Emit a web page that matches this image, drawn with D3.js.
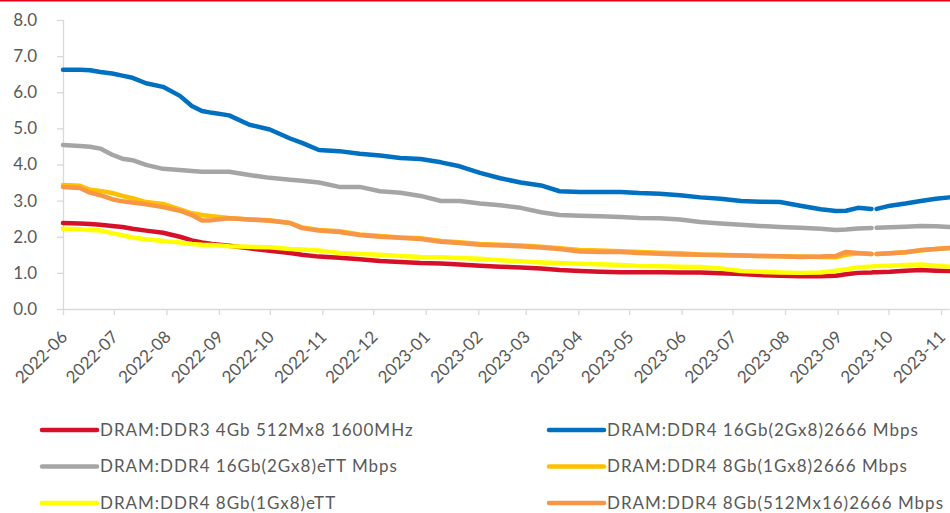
<!DOCTYPE html>
<html>
<head>
<meta charset="utf-8">
<script src="https://cdn.jsdelivr.net/npm/d3@7"></script>
<style>
  body { margin: 0; background: #fff; }
  svg { display: block; font-family: Lato, "Open Sans", sans-serif; }
</style>
</head>
<body>
<div class="chart"></div>
<script>
// dates of the sampled points (yyyy-mm-dd)
var dates = ["2022-06-01","2022-06-11","2022-06-17","2022-06-23","2022-06-30","2022-07-06","2022-07-12","2022-07-20","2022-07-30",
  "2022-08-09","2022-08-16","2022-08-22","2022-08-28","2022-09-07","2022-09-19","2022-10-01","2022-10-13","2022-10-20","2022-10-30",
  "2022-11-11","2022-11-23","2022-12-05","2022-12-17","2022-12-29","2023-01-10","2023-01-21","2023-02-02","2023-02-14","2023-02-26",
  "2023-03-10","2023-03-21","2023-04-02","2023-04-14","2023-04-26","2023-05-07","2023-05-19","2023-05-31","2023-06-12","2023-06-24",
  "2023-07-06","2023-07-17","2023-07-29","2023-08-10","2023-08-22","2023-08-31","2023-09-06","2023-09-13","2023-09-21","2023-09-22",
  "2023-09-24","2023-10-02","2023-10-11","2023-10-20","2023-10-29","2023-11-06"];

var ddr3_4gb = [2.38,2.37,2.35,2.33,2.30,2.27,2.22,2.17,2.11,2.00,1.90,1.84,1.80,1.75,1.68,1.61,1.55,1.50,1.45,
  1.42,1.38,1.33,1.30,1.27,1.26,1.23,1.20,1.17,1.15,1.12,1.08,1.05,1.03,1.02,1.02,1.02,1.01,1.01,0.99,
  0.97,0.94,0.92,0.91,0.91,0.92,0.96,1.00,1.01,1.015,1.02,1.03,1.06,1.08,1.06,1.05];

var ddr4_16gb_2666 = [6.62,6.62,6.61,6.56,6.52,6.46,6.40,6.25,6.15,5.90,5.62,5.48,5.43,5.36,5.10,4.97,4.72,4.60,4.40,
  4.37,4.30,4.25,4.18,4.15,4.06,3.95,3.77,3.62,3.50,3.42,3.26,3.24,3.24,3.24,3.21,3.19,3.15,3.09,3.05,
  2.99,2.97,2.96,2.86,2.76,2.71,2.72,2.80,2.77,null,2.77,2.86,2.92,2.99,3.05,3.09];

var ddr4_16gb_ett = [4.54,4.51,4.49,4.44,4.27,4.16,4.12,3.99,3.88,3.85,3.82,3.80,3.80,3.80,3.71,3.63,3.58,3.55,3.50,
  3.38,3.38,3.26,3.22,3.13,2.99,2.99,2.92,2.87,2.80,2.68,2.60,2.58,2.57,2.55,2.52,2.51,2.48,2.41,2.37,
  2.33,2.30,2.27,2.25,2.22,2.19,2.20,2.23,2.24,null,2.25,2.26,2.28,2.30,2.29,2.27];

var ddr4_8gb_2666 = [3.43,3.41,3.30,3.27,3.21,3.13,3.07,2.96,2.91,2.76,2.65,2.60,2.57,2.52,2.48,2.46,2.38,2.26,2.19,
  2.15,2.06,2.02,1.98,1.96,1.88,1.85,1.80,1.78,1.76,1.72,1.68,1.63,1.62,1.60,1.58,1.56,1.54,1.51,1.50,
  1.48,1.47,1.46,1.45,1.44,1.43,1.50,1.54,1.52,null,1.52,1.54,1.57,1.62,1.66,1.69];

var ddr4_8gb_ett = [2.22,2.21,2.19,2.17,2.10,2.04,1.98,1.93,1.88,1.84,1.80,1.78,1.77,1.74,1.72,1.71,1.66,1.65,1.62,
  1.55,1.52,1.50,1.47,1.44,1.43,1.41,1.39,1.35,1.32,1.29,1.27,1.25,1.24,1.22,1.19,1.18,1.17,1.16,1.12,
  1.05,1.03,1.01,1.00,1.01,1.06,1.10,1.15,1.18,1.185,1.19,1.20,1.22,1.23,1.20,1.17];

var ddr4_8gb_512_2666 = [3.38,3.35,3.22,3.15,3.04,2.98,2.95,2.90,2.82,2.72,2.60,2.45,2.46,2.51,2.48,2.44,2.38,2.24,2.17,
  2.13,2.05,2.00,1.97,1.94,1.86,1.83,1.78,1.76,1.74,1.70,1.66,1.59,1.58,1.58,1.55,1.53,1.51,1.50,1.49,
  1.48,1.47,1.46,1.44,1.45,1.47,1.58,1.55,1.52,null,1.52,1.54,1.57,1.63,1.66,1.69];

var seriesNames = ["DRAM:DDR3 4Gb 512Mx8 1600MHz", "DRAM:DDR4 16Gb(2Gx8)2666 Mbps", "DRAM:DDR4 16Gb(2Gx8)eTT Mbps",
  "DRAM:DDR4 8Gb(1Gx8)2666 Mbps", "DRAM:DDR4 8Gb(1Gx8)eTT", "DRAM:DDR4 8Gb(512Mx16)2666 Mbps"];
var seriesColors = ["#D7102A", "#0070C0", "#A5A5A5", "#FFC000", "#FFFF00", "#F79646"];
var yTicks = [0, 1, 2, 3, 4, 5, 6, 7, 8];

var svgWidth = 950;
var svgHeight = 513;

var margin = {
  top: 20,
  right: 0,
  bottom: 204,
  left: 63
};

var width = 886.5;
var height = svgHeight - margin.top - margin.bottom;

var svg = d3.select(".chart")
  .append("svg")
  .attr("width", svgWidth)
  .attr("height", svgHeight);

// thin red rule on top of the picture
svg.append("rect")
  .attr("x", 0)
  .attr("y", 0)
  .attr("width", svgWidth)
  .attr("height", 1.5)
  .attr("fill", "#E8001C");

var chartGroup = svg.append("g")
  .attr("transform", `translate(${margin.left}, ${margin.top})`);

var parseDate = d3.utcParse("%Y-%m-%d");
var allSeries = [ddr3_4gb, ddr4_16gb_2666, ddr4_16gb_ett, ddr4_8gb_2666, ddr4_8gb_ett, ddr4_8gb_512_2666];

var xTimeScale = d3.scaleUtc()
  .domain([parseDate("2022-06-01"), parseDate("2023-11-06")])
  .range([0, width]);

var yLinearScale = d3.scaleLinear()
  .domain([0, 8])
  .range([height, 0]);

// axes
var bottomAxis = d3.axisBottom(xTimeScale)
  .ticks(d3.utcMonth.every(1))
  .tickFormat(d3.utcFormat("%Y-%m"))
  .tickSize(6);

var leftAxis = d3.axisLeft(yLinearScale)
  .tickValues(yTicks)
  .tickFormat(d3.format(".1f"))
  .tickSize(6)
  .tickPadding(20);

var xAxis = chartGroup.append("g")
  .attr("transform", `translate(0, ${height})`)
  .call(bottomAxis);

xAxis.select(".domain").attr("d", `M0,0.5H${width}`);

// rotated month labels, end of the text just right of the tick
xAxis.selectAll("text")
  .attr("text-anchor", "end")
  .attr("x", 0)
  .attr("y", 0)
  .attr("dy", 0)
  .attr("transform", "translate(5, 29) rotate(-45)");

var yAxis = chartGroup.append("g")
  .call(leftAxis);

yAxis.select(".domain").attr("d", `M0.5,0V${height}`);

chartGroup.selectAll(".domain, .tick line")
  .attr("stroke", "#D9D9D9")
  .attr("stroke-width", 1.3);

chartGroup.selectAll(".tick text")
  .attr("fill", "#595959")
  .attr("font-size", "17px")
  .attr("font-family", "Lato, sans-serif");

// lines
var lineGen = d3.line()
  .defined(d => d.value != null)
  .x(d => xTimeScale(d.date))
  .y(d => yLinearScale(d.value));

allSeries.forEach(function(values, i) {
  var points = dates.map(function(d, j) {
    return { date: parseDate(d), value: values[j] };
  });
  chartGroup.append("path")
    .datum(points)
    .attr("fill", "none")
    .attr("stroke", seriesColors[i])
    .attr("stroke-width", 4.5)
    .attr("stroke-linejoin", "round")
    .attr("stroke-linecap", "round")
    .attr("d", lineGen);
});

// legend, two columns
var legendGroup = svg.append("g");

seriesNames.forEach(function(name, i) {
  var col = i % 2;
  var row = Math.floor(i / 2);
  var lx = col == 0 ? 42 : 549;
  var ly = 430 + row * 36.5;
  legendGroup.append("line")
    .attr("x1", lx)
    .attr("x2", lx + 55)
    .attr("y1", ly)
    .attr("y2", ly)
    .attr("stroke", seriesColors[i])
    .attr("stroke-width", 4.5)
    .attr("stroke-linecap", "round");
  legendGroup.append("text")
    .attr("x", lx + 58)
    .attr("y", ly)
    .attr("dy", "0.35em")
    .attr("fill", "#595959")
    .attr("font-size", "17px")
    .attr("letter-spacing", "1px")
    .text(name);
});
</script>
</body>
</html>
